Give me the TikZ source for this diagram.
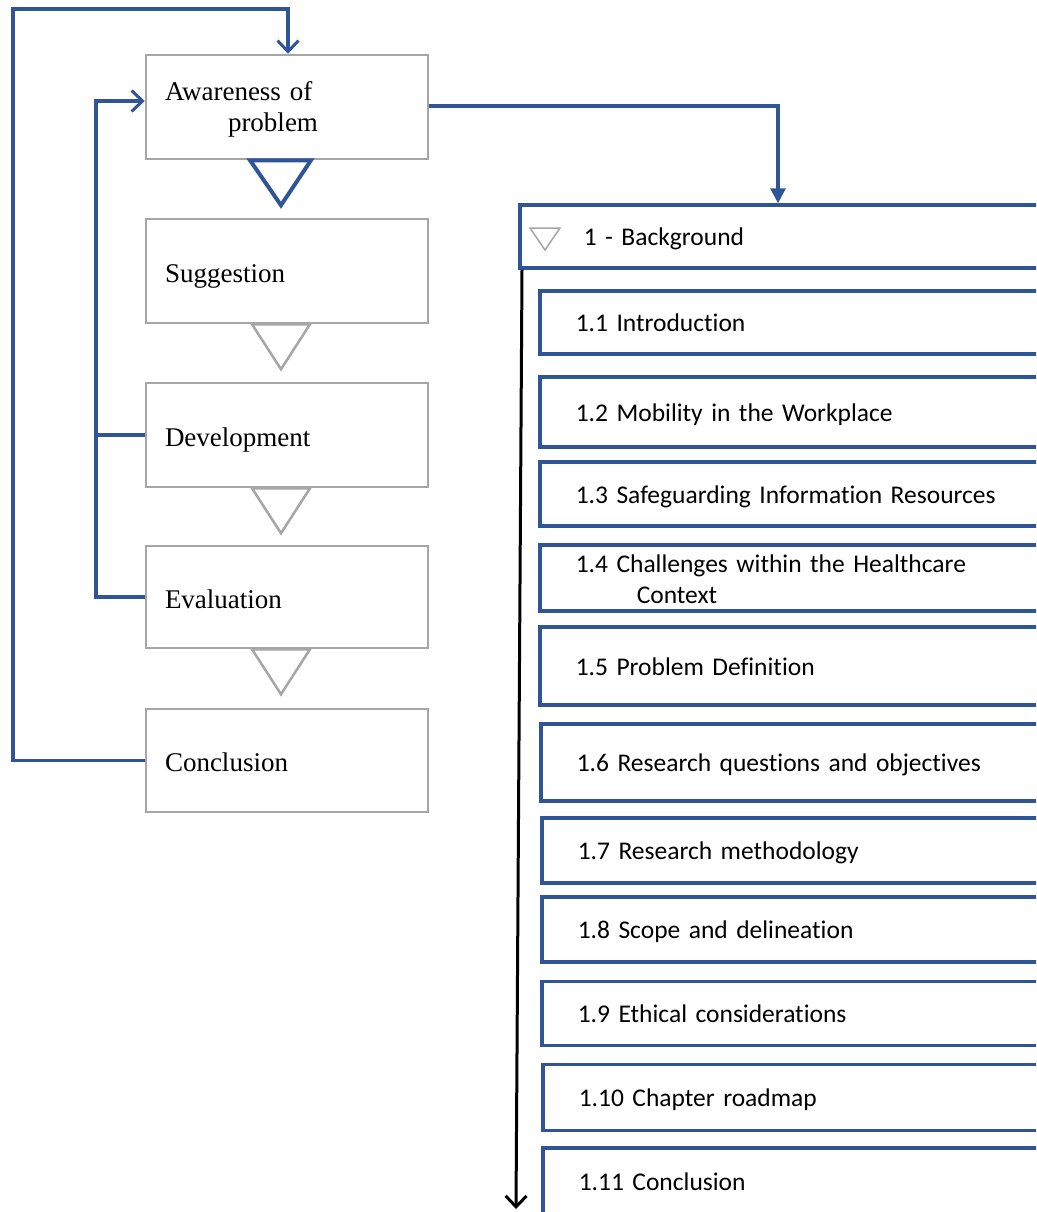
\documentclass[tikz,border=0pt]{standalone}
\usepackage{fontspec}
\setmainfont{Liberation Serif}
\newfontfamily\secfont[Ligatures=NoCommon]{Carlito}
\usetikzlibrary{arrows.meta,calc}
\definecolor{dsblue}{RGB}{47,85,151}
\definecolor{dsgray}{RGB}{166,166,166}
\begin{document}
\begin{tikzpicture}[x=1pt,y=-1pt,
  phase/.style={draw=dsgray,line width=2.5pt,minimum width=282pt,minimum height=104pt,
    inner xsep=19pt,text width=244pt,align=left,text height=22pt,text depth=0pt,
    font=\fontsize{27}{31}\selectfont},
  chapter/.style={draw=dsblue,line width=3.5pt,anchor=west,minimum width=560pt,
    inner xsep=64pt,text width=432pt,align=left,text height=17pt,text depth=0pt,
    font=\secfont\fontsize{25.5}{31}\selectfont},
  section/.style={draw=dsblue,line width=3.5pt,anchor=west,minimum width=540pt,
    inner xsep=36pt,text width=468pt,align=left,text height=18.5pt,text depth=0pt,
    font=\secfont\fontsize{25.5}{31}\selectfont},
  twolines/.style={text height=0pt,text depth=12pt},
  flow/.style={draw=dsblue,line width=3.2pt},
  graytri/.style={draw=dsgray,line width=2.5pt,line join=miter},
  bluetri/.style={draw=dsblue,line width=4pt,line join=miter},
  barb/.style={-{Straight Barb[length=11pt,width=21pt,line width=3pt]}},
]
\useasboundingbox (0,0) rectangle (1036,1212);
\clip (0,0) rectangle (1036,1212);

% design science process steps
\node[phase,twolines] (aw) at (287,107) {Awareness of\\\hspace*{63pt}problem};
\node[phase] (sug) at (287,271) {Suggestion};
\node[phase] (dev) at (287,435) {Development};
\node[phase,minimum height=102pt] (eva) at (287,597) {Evaluation};
\node[phase,minimum height=103pt] (con) at (287,760.5) {Conclusion};

% downward triangles between the steps
\draw[bluetri] ([xshift=-37pt]aw.south) -- ([xshift=-6pt,yshift=-45pt]aw.south) -- ([xshift=24pt]aw.south) -- cycle;
\foreach \s in {sug,dev,eva}
  \draw[graytri] ([xshift=-35pt]\s.south) -- ([xshift=-6pt,yshift=-45pt]\s.south) -- ([xshift=23pt]\s.south) -- cycle;

% iteration loops back to awareness
\coordinate (outer) at (13,9);
\coordinate (inner) at (96,435);
\draw[flow,barb] (con.west) -| (outer) -| ([xshift=1pt]aw.north);
\draw[flow] (eva.west) -| (inner);
\draw[flow,barb] (dev.west) -- (inner) |- ([yshift=6pt]aw.west);

% chapter outline
\node[chapter,minimum height=63pt] (bg) at (518,236.5) {1 - Background};
\draw[graytri,line width=1.5pt] (530,228) -- (545,250) -- (560,228) -- cycle;
\coordinate (bgin) at ($(bg.north west)+(260,0)$);
\draw[flow,-{Triangle[length=15pt,width=15pt]}] ([yshift=1pt]aw.east) -| (bgin);

\node[section,minimum height=63pt] (s1) at (538,322.5) {1.1 Introduction};
\node[section,minimum height=70pt] (s2) at (538,412) {1.2 Mobility in the Workplace};
\node[section,minimum height=64pt] (s3) at (538,494) {1.3 Safeguarding Information Resources};
\node[section,twolines,minimum height=66pt] (s4) at (538,578) {1.4 Challenges within the Healthcare\\\hspace*{61pt}Context};
\node[section,minimum height=78pt] (s5) at (538,666) {1.5 Problem Definition};
\node[section,minimum height=77pt] (s6) at (539,762.5) {1.6 Research questions and objectives};
\node[section,minimum height=65pt] (s7) at (540,850.5) {1.7 Research methodology};
\node[section,minimum height=65pt] (s8) at (540,929.5) {1.8 Scope and delineation};
\node[section,minimum height=64pt] (s9) at (540,1013.5) {1.9 Ethical considerations};
\node[section,minimum height=66pt] (s10) at (541,1097.5) {1.10 Chapter roadmap};
\node[section,minimum height=66pt] (s11) at (541,1181) {1.11 Conclusion};

% reading order arrow
\coordinate (flowend) at (516,1209);
\draw[line width=3pt,barb] ([xshift=4pt]bg.south west) -- (flowend);
\end{tikzpicture}
\end{document}
